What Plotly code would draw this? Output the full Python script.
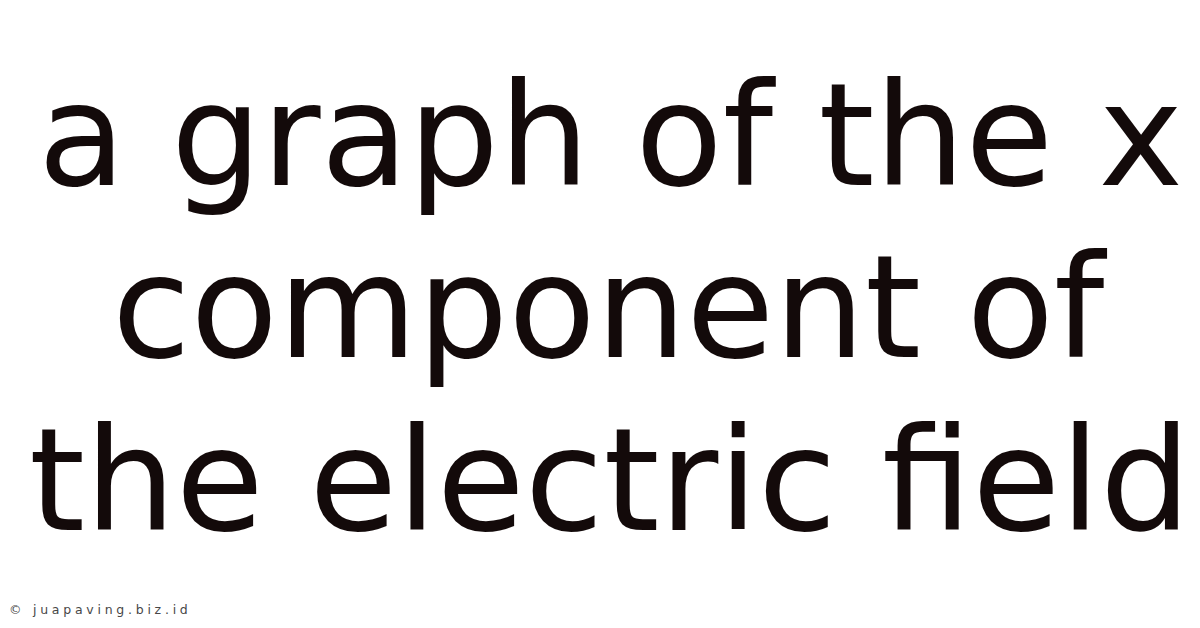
import plotly.graph_objects as go

title_lines = ["a graph of the x", "component of", "the electric field"]
line_centers_px = [127, 299, 472]
watermark = "© juapaving.biz.id"

W, H = 1200, 628
TEXT_COLOR = "#130a0a"

fig = go.Figure()
annotations = []
for line, ypx in zip(title_lines, line_centers_px):
    annotations.append(dict(
        text=line, x=0.502, y=1 - ypx / H, xref="paper", yref="paper",
        xanchor="center", yanchor="middle", showarrow=False,
        font=dict(family="DejaVu Sans", size=143, color=TEXT_COLOR),
    ))

# watermark drawn with letter spacing (thin + hair spaces between glyphs)
spaced_watermark = "\u2009\u200a".join(watermark)
annotations.append(dict(
    text=spaced_watermark, x=0, y=1 - 601 / H, xref="paper", yref="paper",
    xanchor="left", yanchor="middle", showarrow=False, borderpad=0,
    xshift=0,
    font=dict(family="DejaVu Sans", size=12.5, color="#474747"),
))

fig.update_layout(
    width=W, height=H, margin=dict(l=0, r=0, t=0, b=0),
    paper_bgcolor="white", plot_bgcolor="white",
    xaxis=dict(visible=False), yaxis=dict(visible=False),
    annotations=annotations, showlegend=False,
)
fig.write_html("out.html", config={"displayModeBar": False})
